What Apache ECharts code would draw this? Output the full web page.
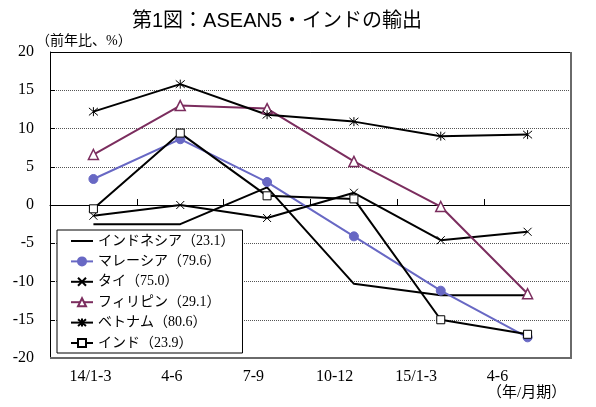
<!DOCTYPE html>
<html>
<head>
<meta charset="utf-8">
<script src="https://cdn.jsdelivr.net/npm/echarts@6/dist/echarts.min.js"></script>
<style>
  html, body { margin: 0; padding: 0; background: #fff; }
  #chart { width: 596px; height: 407px; }
</style>
</head>
<body>
<div id="chart"></div>
<script>
// Quarterly export growth (year-on-year, %)
const categories = ['14/1-3', '4-6', '7-9', '10-12', '15/1-3', '4-6'];

const indonesia   = [-2.5, -2.5, 2.3, -10.3, -11.8, -11.8];
const malaysia    = [3.4, 8.6, 3.0, -4.1, -11.2, -17.3];
const thailand    = [-1.4, 0.0, -1.7, 1.6, -4.6, -3.5];
const philippines = [6.6, 13.0, 12.6, 5.7, -0.2, -11.6];
const vietnam     = [12.2, 15.8, 11.8, 10.9, 9.0, 9.2];
const india       = [-0.5, 9.4, 1.2, 0.8, -15.0, -16.9];

const seriesNames = [
  'インドネシア（23.1）',
  'マレーシア（79.6）',
  'タイ（75.0）',
  'フィリピン（29.1）',
  'ベトナム（80.6）',
  'インド（23.9）'
];

const yTicks = { min: -20, max: 20, interval: 5 };

const serif = '"Liberation Serif", "Noto Sans CJK JP", serif';
const gothic = '"Liberation Sans", "Noto Sans CJK JP", sans-serif';

const crossPath = 'path://M0,0L10,10M10,0L0,10';
const starPath = 'path://M0,0L10,10M10,0L0,10M5,-1L5,11';

// the period labels sit on a slightly tighter pitch than the plotted points
const labelSlots = categories.map((_, i) => i);
const labelRange = { min: -0.4975, max: 5.903 };

function lineSeries(name, data, color, extra) {
  return Object.assign({
    name: name,
    type: 'line',
    data: data,
    xAxisIndex: 0,
    yAxisIndex: 0,
    lineStyle: { color: color, width: 2 },
    itemStyle: { color: color, borderColor: color, borderWidth: 1 },
    emphasis: { disabled: true },
    animation: false
  }, extra);
}

const captions = [
  {
    id: 'unit', type: 'text', left: 36, top: 34,
    style: { text: '（前年比、%）', font: '14px ' + serif, fill: '#000' }
  },
  {
    id: 'period', type: 'text', left: 487, top: 386,
    style: { text: '（年/月期）', font: '15px ' + serif, fill: '#000' }
  }
];

const chart = echarts.init(document.getElementById('chart'), null, { renderer: 'canvas' });

chart.setOption({
  backgroundColor: '#fff',
  animation: false,
  title: {
    text: '第1図：ASEAN5・インドの輸出',
    left: 127,
    top: 6,
    textStyle: { fontFamily: gothic, fontSize: 20, fontWeight: 'normal', color: '#000' }
  },
  graphic: captions,
  legend: {
    orient: 'vertical',
    left: 57,
    top: 230,
    padding: [4, 8, 3, 13],
    itemGap: 6.4,
    itemWidth: 22,
    itemHeight: 10,
    backgroundColor: '#fff',
    borderColor: '#000',
    borderWidth: 1,
    selectedMode: false,
    z: 10,
    textStyle: { fontFamily: serif, fontSize: 14, color: '#000', lineHeight: 14 },
    data: [
      { name: seriesNames[0], itemStyle: { color: 'rgba(0,0,0,0)', borderColor: 'rgba(0,0,0,0)', borderWidth: 0 } },
      seriesNames[1], seriesNames[2], seriesNames[3], seriesNames[4], seriesNames[5]
    ]
  },
  grid: { left: 50, right: 25, top: 52, height: 306, show: false },
  xAxis: [
    {
      // zero line with the period dividers
      type: 'category',
      data: categories,
      position: 'bottom',
      boundaryGap: true,
      axisLine: { show: true, onZero: true, lineStyle: { color: '#000', width: 1 } },
      axisTick: { show: true, inside: true, length: 6, lineStyle: { color: '#000' } },
      axisLabel: { show: false },
      splitLine: { show: false }
    },
    {
      // period labels along the bottom edge
      type: 'value',
      position: 'bottom',
      min: labelRange.min,
      max: labelRange.max,
      axisLine: { show: false },
      axisTick: { show: false },
      splitLine: { show: false },
      axisLabel: {
        customValues: labelSlots,
        formatter: (v) => categories[Math.round(v)],
        fontFamily: serif, fontSize: 16, color: '#000', margin: 11
      }
    }
  ],
  yAxis: [
    {
      type: 'value',
      position: 'left',
      min: yTicks.min,
      max: yTicks.max,
      interval: yTicks.interval,
      axisLine: { show: true, onZero: false, lineStyle: { color: '#000' } },
      axisTick: { show: true, inside: true, length: 5, lineStyle: { color: '#000' } },
      axisLabel: { fontFamily: serif, fontSize: 16, color: '#000', margin: 16 },
      splitLine: { show: true, lineStyle: { color: '#555', type: 'dotted', width: 1 } }
    }
  ],
  series: [
    lineSeries(seriesNames[0], indonesia, '#000', { symbol: 'none' }),
    lineSeries(seriesNames[1], malaysia, '#6868C4', { symbol: 'circle', symbolSize: 9 }),
    lineSeries(seriesNames[2], thailand, '#000', {
      symbol: crossPath, symbolSize: 8,
      itemStyle: { color: '#000', borderColor: '#000', borderWidth: 1 }
    }),
    lineSeries(seriesNames[3], philippines, '#7B2D5E', {
      symbol: 'triangle', symbolSize: 10,
      itemStyle: { color: '#fff', borderColor: '#7B2D5E', borderWidth: 1.5 }
    }),
    lineSeries(seriesNames[4], vietnam, '#000', {
      symbol: starPath, symbolSize: 9,
      itemStyle: { color: '#000', borderColor: '#000', borderWidth: 1 }
    }),
    lineSeries(seriesNames[5], india, '#000', {
      symbol: 'rect', symbolSize: 8,
      itemStyle: { color: '#fff', borderColor: '#000', borderWidth: 1 }
    })
  ]
});

// plot frame: corners taken from the axes' own scales
const fx0 = chart.convertToPixel({ xAxisIndex: 1 }, labelRange.min);
const fx1 = chart.convertToPixel({ xAxisIndex: 1 }, labelRange.max);
const fyTop = chart.convertToPixel({ yAxisIndex: 0 }, yTicks.max);
const fyBot = chart.convertToPixel({ yAxisIndex: 0 }, yTicks.min);
const L = Math.round(fx0), R = Math.round(fx1), T = Math.round(fyTop), B = Math.round(fyBot);

chart.setOption({
  graphic: captions.concat([
    {
      id: 'frameTop', type: 'line', z: 50, silent: true,
      shape: { x1: L, y1: T + 0.5, x2: R, y2: T + 0.5 },
      style: { stroke: '#000', lineWidth: 1 }
    },
    {
      id: 'frameRight', type: 'line', z: 50, silent: true,
      shape: { x1: R, y1: T, x2: R, y2: B + 1 },
      style: { stroke: '#6a6a6a', lineWidth: 2 }
    },
    {
      id: 'frameBottom', type: 'line', z: 50, silent: true,
      shape: { x1: L, y1: B, x2: R + 1, y2: B },
      style: { stroke: '#6a6a6a', lineWidth: 2 }
    }
  ])
});
</script>
</body>
</html>
